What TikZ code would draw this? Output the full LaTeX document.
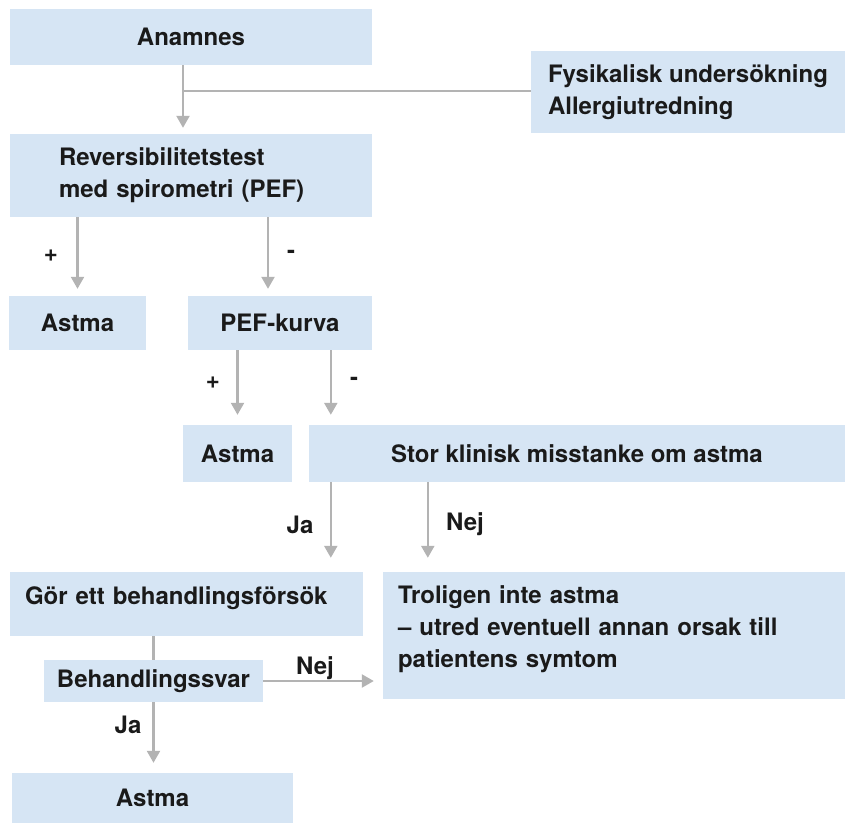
\documentclass[tikz,border=0pt]{standalone}
\usepackage{fontspec}
\setmainfont{TeX Gyre Heros}
\usetikzlibrary{arrows.meta}
\definecolor{boxblue}{HTML}{D6E5F4}
\definecolor{arrowgray}{HTML}{B3B3B3}
\definecolor{textdark}{HTML}{1A1A1A}
\tikzset{
	box/.style={fill=boxblue, inner sep=0pt, text=textdark, font=\bfseries\fontsize{24}{32}\selectfont},
	lbl/.style={anchor=base, inner sep=0pt, text=textdark, font=\bfseries\fontsize{24}{32}\selectfont},
	conn/.style={draw=arrowgray, line width=2.3pt},
	arr/.style={conn, -{Triangle[width=13pt,length=12pt]}},
}
\begin{document}
\begin{tikzpicture}[x=1pt, y=-1pt, line join=round]
				\useasboundingbox (0,0) rectangle (845,823);
				% boxes
				\node[box, minimum width=362pt, minimum height=56pt] (anam) at (191,37) {Anamnes};
				\node[box, minimum width=314pt, minimum height=82pt, align=left] (fys) at (688,92) {Fysikalisk undersökning\\Allergiutredning};
				\node[box, minimum height=83pt, text width=264pt, inner xsep=49pt, align=left] (rev) at (191,175.5) {Reversibilitetstest\\med spirometri (PEF)};
				\node[box, minimum width=137pt, minimum height=54pt] (astA) at (77.5,323) {Astma};
				\node[box, minimum width=184pt, minimum height=54pt] (pef) at (280,323) {PEF-kurva};
				\node[box, minimum width=109pt, minimum height=57pt] (astB) at (237.5,453.5) {Astma};
				\node[box, minimum width=536pt, minimum height=57pt] (stor) at (577,453.5) {Stor klinisk misstanke om astma};
				\node[box, minimum height=64pt, text width=323pt, inner xsep=15pt, align=left] (gor) at (186.5,604) {Gör ett behandlingsförsök\par\vspace{12pt}};
				\node[box, minimum height=127pt, text width=432pt, inner xsep=15pt, align=left] (trol) at (614,635.5) {Troligen inte astma\\– utred eventuell annan orsak till\\patientens symtom\par\vspace{13pt}};
				\node[box, minimum width=219pt, minimum height=42pt] (beh) at (153.5,681) {Behandlingssvar};
				\node[box, minimum width=281pt, minimum height=50pt] (astC) at (152.5,798) {Astma};
				% labels
				\foreach \n/\t/\x/\y in {pA/+/51/261, mA/-/291/258.5, pB/+/213/388, mB/-/354/385.5, jaA/Ja/300/533, nejA/Nej/465/530, nejB/Nej/315/674, jaB/Ja/128/733}
				\node[lbl] (\n) at (\x,\y) {\t};
				% connectors
				\draw[arr, shorten >=6pt] ([xshift=-8pt]anam.south) -- ([xshift=-8pt]rev.north);
				\coordinate (split) at (183,91);
				\draw[conn] (split) -- (split -| fys.west);
				\draw[arr, shorten >=7pt] (astA.north |- rev.south) -- (astA.north);
				\draw[arr, shorten >=7pt] ([xshift=-12pt]pef.north |- rev.south) -- ([xshift=-12pt]pef.north);
				\draw[arr, shorten >=10pt] (astB.north |- pef.south) -- (astB.north);
				\draw[arr, shorten >=10pt] ([xshift=22pt]stor.north west |- pef.south) -- ([xshift=22pt]stor.north west);
				\draw[arr, shorten >=14pt] ([xshift=22pt]stor.south west) -- ([xshift=22pt]stor.south west |- gor.north);
				\draw[arr, shorten >=14pt] ([xshift=45pt]trol.north west |- stor.south) -- ([xshift=45pt]trol.north west);
				\draw[conn] (beh.north |- gor.south) -- (beh.north);
				\draw[arr, shorten >=9pt] (beh.east) -- (beh.east -| trol.west);
				\draw[arr, shorten >=10pt] (beh.south) -- (astC.north -| beh.south);
\end{tikzpicture}
\end{document}
